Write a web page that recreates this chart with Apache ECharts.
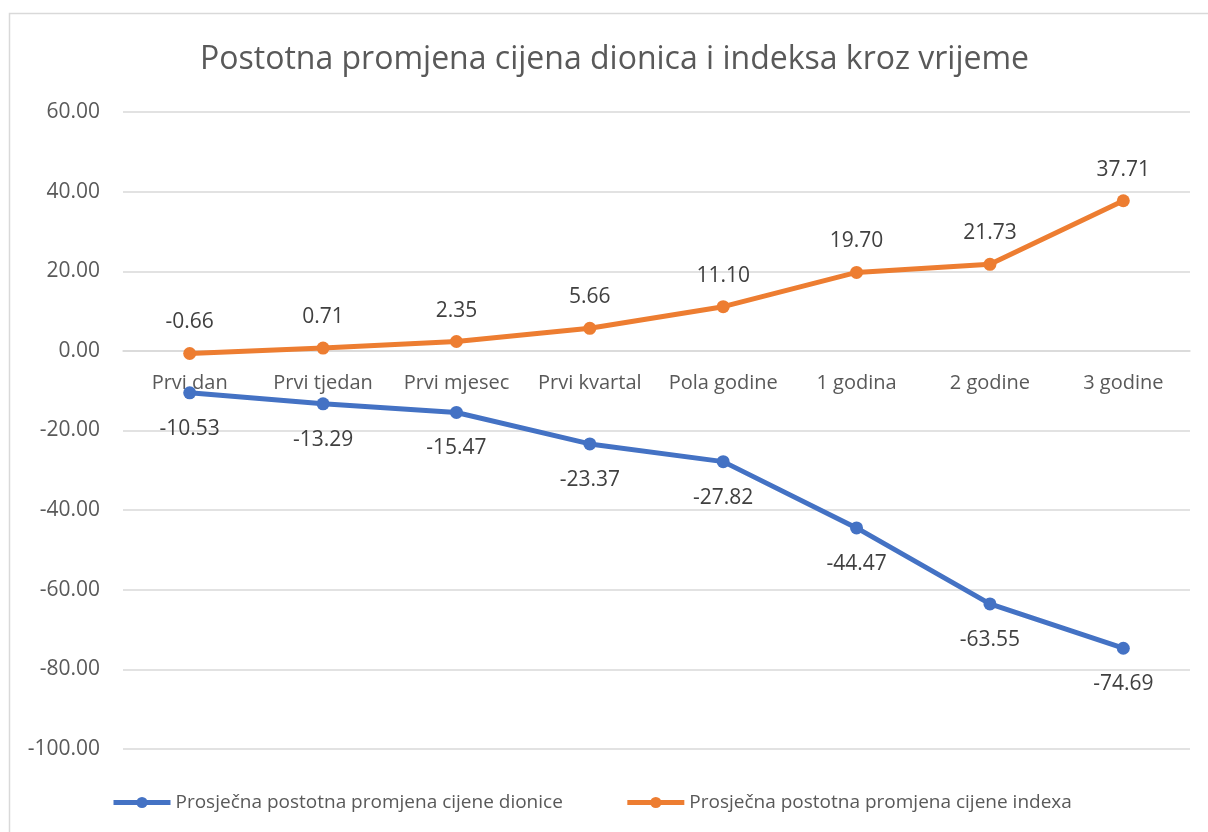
<!DOCTYPE html>
<html><head><meta charset="utf-8">
<script src="https://cdn.jsdelivr.net/npm/echarts@6/dist/echarts.min.js"></script>
<style>html,body{margin:0;padding:0;background:#fff}#c{width:1208px;height:832px}</style>
</head><body><div id="c"></div>
<script>
const categories = ['Prvi dan','Prvi tjedan','Prvi mjesec','Prvi kvartal','Pola godine','1 godina','2 godine','3 godine'];
const dionice = [-10.53,-13.29,-15.47,-23.37,-27.82,-44.47,-63.55,-74.69];
const indexa = [-0.66,0.71,2.35,5.66,11.10,19.70,21.73,37.71];
const seriesNames = ['Prosječna postotna promjena cijene dionice','Prosječna postotna promjena cijene indexa'];
const yTicks = {min:-100,max:60,interval:20};
const F = '"Open Sans", sans-serif';
const GRID_TOP = 112, GRID_BOTTOM_Y = 749;
const zeroY = GRID_TOP + (GRID_BOTTOM_Y - GRID_TOP) * (yTicks.max - 0) / (yTicks.max - yTicks.min);
const chart = echarts.init(document.getElementById('c'));
chart.setOption({
  animation:false,
  title:{text:'Postotna promjena cijena dionica i indeksa kroz vrijeme',left:195,top:39,
    textStyle:{fontFamily:F,fontSize:32,fontWeight:'normal',color:'#595959'}},
  graphic:[{type:'rect',shape:{x:9.5,y:13.5,width:1220,height:840},style:{fill:'none',stroke:'#d9d9d9',lineWidth:1.5},silent:true}],
  grid:{left:123,right:18,top:GRID_TOP,bottom:832-GRID_BOTTOM_Y},
  legend:{left:106,top:788,itemWidth:57,itemHeight:14,itemGap:62,
    lineStyle:{width:5},
    textStyle:{fontFamily:F,fontSize:19,color:'#595959'}},
  xAxis:{type:'category',data:categories,boundaryGap:true,offset:-(GRID_BOTTOM_Y-zeroY),
    axisLine:{onZero:false,lineStyle:{color:'#d9d9d9',width:1.5}},axisTick:{show:false},
    axisLabel:{interval:0,hideOverlap:false,fontFamily:F,fontSize:20,color:'#595959',margin:22}},
  yAxis:{type:'value',min:yTicks.min,max:yTicks.max,interval:yTicks.interval,
    axisLine:{show:false},axisTick:{show:false},
    splitLine:{lineStyle:{color:'#d9d9d9',width:1.5}},
    axisLabel:{fontFamily:F,fontSize:21,color:'#595959',margin:23,formatter:v=>v.toFixed(2)}},
  series:[
    {name:seriesNames[0],type:'line',data:dionice,symbol:'circle',symbolSize:13,
      lineStyle:{width:5,color:'#4472C4'},itemStyle:{color:'#4472C4'},
      label:{show:true,position:'bottom',distance:19,fontFamily:F,fontSize:21,color:'#404040',formatter:p=>p.value.toFixed(2)}},
    {name:seriesNames[1],type:'line',data:indexa,symbol:'circle',symbolSize:13,
      lineStyle:{width:5,color:'#ED7D31'},itemStyle:{color:'#ED7D31'},
      label:{show:true,position:'top',distance:14,fontFamily:F,fontSize:21,color:'#404040',formatter:p=>p.value.toFixed(2)}}
  ]
});
</script></body></html>
